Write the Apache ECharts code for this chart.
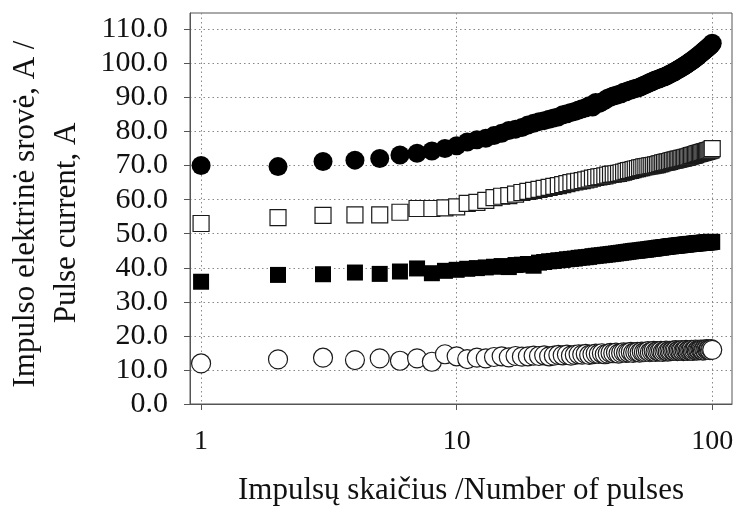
<!DOCTYPE html>
<html>
<head>
<meta charset="utf-8">
<script src="https://cdn.jsdelivr.net/npm/echarts@6/dist/echarts.min.js"></script>
<style>html,body{margin:0;padding:0;background:#fff;}#c{width:737px;height:506px;}</style>
</head>
<body>
<div id="c"></div>
<script>
const pulses = [1,2,3,4,5,6,7,8,9,10,11,12,13,14,15,16,17,18,19,20,21,22,23,24,25,26,27,28,29,30,31,32,33,34,35,36,37,38,39,40,41,42,43,44,45,46,47,48,49,50,51,52,53,54,55,56,57,58,59,60,61,62,63,64,65,66,67,68,69,70,71,72,73,74,75,76,77,78,79,80,81,82,83,84,85,86,87,88,89,90,91,92,93,94,95,96,97,98,99,100];

const filledCircles = [70.0,69.7,71.2,71.6,72.1,73.1,73.6,74.3,75.0,75.8,
76.9,77.6,78.0,78.8,79.5,80.3,80.7,81.2,81.9,82.4,
82.9,83.2,83.6,84.0,84.3,84.9,85.2,85.6,85.9,86.3,
86.7,87.0,87.6,87.2,88.5,88.2,88.7,89.2,89.8,90.1,
90.4,90.6,90.9,91.1,91.5,91.7,92.0,92.2,92.4,92.6,
92.8,93.0,93.3,93.6,93.8,94.1,94.4,94.6,94.9,95.1,
95.3,95.5,95.7,95.9,96.1,96.3,96.5,96.8,97.0,97.3,
97.5,97.8,98.1,98.3,98.6,98.8,99.1,99.4,99.6,99.9,
100.2,100.5,100.7,101.0,101.3,101.6,101.9,102.2,102.5,102.8,
103.1,103.4,103.7,104.0,104.3,104.6,104.9,105.2,105.5,105.9];

const openSquares = [53.0,54.7,55.4,55.5,55.5,56.3,57.4,57.4,57.6,57.9,
58.9,59.2,59.8,60.6,61.0,61.2,61.6,62.1,62.4,62.7,
63.0,63.3,63.6,63.9,64.1,64.4,64.7,65.0,65.2,65.4,
65.6,65.8,66.0,66.3,66.5,66.7,66.8,67.0,67.2,67.4,
67.5,67.6,67.7,67.9,68.1,68.3,68.5,68.6,68.8,69.0,
69.1,69.3,69.4,69.6,69.7,69.8,69.9,70.0,70.1,70.2,
70.3,70.5,70.6,70.8,70.9,71.0,71.1,71.2,71.4,71.5,
71.6,71.7,71.8,71.9,72.0,72.1,72.2,72.3,72.4,72.5,
72.6,72.8,72.9,73.0,73.1,73.2,73.4,73.5,73.6,73.7,
73.8,73.9,74.0,74.1,74.2,74.3,74.4,74.5,74.6,75.0];

const filledSquares = [35.9,37.9,38.1,38.6,38.2,38.9,39.8,38.4,39.1,39.4,
39.7,39.9,40.1,40.3,40.5,40.2,40.8,40.9,41.1,40.6,
41.5,41.7,41.9,42.0,42.2,42.3,42.5,42.6,42.7,42.9,
43.0,43.1,43.2,43.4,43.5,43.6,43.7,43.8,43.9,44.0,
44.1,44.2,44.3,44.4,44.5,44.6,44.7,44.8,44.9,45.0,
45.0,45.1,45.2,45.3,45.3,45.4,45.5,45.6,45.6,45.7,
45.8,45.9,45.9,46.0,46.1,46.1,46.2,46.3,46.3,46.4,
46.4,46.5,46.5,46.6,46.6,46.7,46.7,46.8,46.8,46.9,
46.9,47.0,47.0,47.0,47.1,47.1,47.2,47.2,47.2,47.3,
47.3,47.3,47.4,47.4,47.4,47.5,47.5,47.5,47.6,47.6];

const openCircles = [11.9,13.1,13.6,12.9,13.4,12.7,13.4,12.4,14.6,14.0,
13.2,13.6,13.4,13.8,14.0,13.7,14.1,13.9,14.0,14.2,
14.1,14.3,14.0,14.2,14.4,14.3,14.5,14.2,14.4,14.6,
14.5,14.7,14.4,14.6,14.8,14.7,14.9,14.6,14.8,15.0,
14.9,15.1,14.8,15.0,15.2,15.0,15.1,15.3,15.0,15.2,
15.3,15.1,15.4,15.2,15.3,15.5,15.2,15.4,15.6,15.3,
15.5,15.4,15.6,15.3,15.5,15.7,15.4,15.6,15.5,15.7,
15.6,15.8,15.5,15.7,15.6,15.8,15.5,15.7,15.9,15.6,
15.8,15.7,15.9,15.6,15.8,16.0,15.7,15.9,15.8,16.0,
15.9,15.7,16.0,15.8,16.1,15.9,16.0,15.8,16.1,15.9];

const xTicks = [1, 10, 100];
const yTicks = [0,10,20,30,40,50,60,70,80,90,100,110];
const xTitle = 'Impulsų skaičius /Number of pulses';
const yTitle1 = 'Impulso elektrinė srovė, A /';
const yTitle2 = 'Pulse current, A';

const FONT = 'Liberation Serif';
const pairs = arr => pulses.map((p, i) => [p, arr[i]]);

const chart = echarts.init(document.getElementById('c'), null, {renderer: 'canvas'});
const openStyle = {color: '#ffffff', borderColor: '#1a1a1a', borderWidth: 1.2, opacity: 1};
const fillStyle = {color: '#000000', opacity: 1};
chart.setOption({
  animation: false,
  backgroundColor: '#fff',
  grid: {left: 190, right: 5, top: 13, bottom: 102, show: true, borderColor: '#555', borderWidth: 1,
         containLabel: false, outerBoundsMode: 'none'},
  xAxis: {
    type: 'log', logBase: 10, min: 0.905, max: 119.5,
    name: xTitle, nameLocation: 'middle', nameGap: 71,
    nameTextStyle: {fontFamily: FONT, fontSize: 31, color: '#111'},
    axisLine: {show: true, lineStyle: {color: '#555', width: 1}},
    axisTick: {show: true, length: 6, inside: false, customValues: xTicks, lineStyle: {color: '#555'}},
    axisLabel: {customValues: xTicks, margin: 24, fontFamily: FONT, fontSize: 28, color: '#111', formatter: v => String(v)},
    splitLine: {show: true, lineStyle: {color: '#888', type: [1.5, 3], width: 1}},
    minorTick: {show: false}, minorSplitLine: {show: false}
  },
  yAxis: {
    type: 'value', min: 0, max: 114.8, interval: 10,
    axisLine: {show: true, lineStyle: {color: '#555', width: 1}},
    axisTick: {show: true, length: 6, inside: false, customValues: yTicks, lineStyle: {color: '#555'}},
    axisLabel: {customValues: yTicks, margin: 22, fontFamily: FONT, fontSize: 30, color: '#111', formatter: v => v.toFixed(1)},
    splitLine: {show: true, lineStyle: {color: '#888', type: [1.5, 3], width: 1}}
  },
  graphic: [
    {type: 'text', x: 26, y: 214, rotation: Math.PI / 2,
     style: {text: yTitle1, fontFamily: FONT, fontSize: 31, fill: '#111', textAlign: 'center', textVerticalAlign: 'middle'}},
    {type: 'text', x: 67, y: 223, rotation: Math.PI / 2,
     style: {text: yTitle2, fontFamily: FONT, fontSize: 31, fill: '#111', textAlign: 'center', textVerticalAlign: 'middle'}}
  ],
  series: [
    {type: 'scatter', name: 'openCircles', data: pairs(openCircles), symbol: 'circle', symbolSize: 19, itemStyle: openStyle},
    {type: 'scatter', name: 'filledSquares', data: pairs(filledSquares), symbol: 'rect', symbolSize: 16, itemStyle: fillStyle},
    {type: 'scatter', name: 'openSquares', data: pairs(openSquares), symbol: 'rect', symbolSize: 16, itemStyle: openStyle},
    {type: 'scatter', name: 'filledCircles', data: pairs(filledCircles), symbol: 'circle', symbolSize: 19, itemStyle: fillStyle}
  ]
});
</script>
</body>
</html>
